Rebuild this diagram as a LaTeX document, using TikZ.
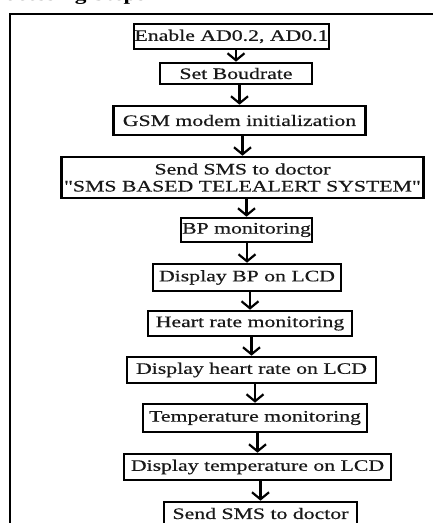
\documentclass[tikz,border=0pt]{standalone}
\usepackage{fontspec}
\newfontfamily\boxfont{Liberation Serif}[FakeStretch=1.36,FakeBold=0.5]
\newfontfamily\headfont{Liberation Serif}[FakeStretch=1.3]
\usetikzlibrary{arrows.meta}
\begin{document}
\begin{tikzpicture}[x=1pt,y=-1pt,
  box/.style={draw, line width=2.6pt, inner sep=0pt, align=center,
    font=\boxfont\fontsize{16}{17}\selectfont, text=black!90},
  flow/.style={line width=2.4pt, -{Straight Barb[length=7pt,width=17pt,line width=2.2pt]}},
  frameline/.style={line width=1.6pt},
  head/.style={inner sep=0pt, font=\headfont\fontsize{18}{20}\selectfont\bfseries}]
\useasboundingbox (0,0) rectangle (433,523);
\fill[white] (0,0) rectangle (433,523);
% heading (cut at top, as in the source)
\node[head, anchor=base east] (title) at (146,0.5) {Processing Steps};
% frame
\coordinate (fr) at (440,14);
\coordinate (fc) at (10,14);
\coordinate (fb) at (10,530);
\draw[frameline] (fr) -- (fc) -- (fb);
% boxes
\node[box, minimum width=195pt, minimum height=25pt] (b1) at (231.5,36.5) {Enable AD0.2, AD0.1};
\node[box, minimum width=152pt, minimum height=21pt] (b2) at (236,73.5) {Set Boudrate};
\node[box, minimum width=252pt, minimum height=29pt] (b3) at (239.5,120.5) {GSM modem initialization};
\node[box, minimum width=362pt, minimum height=41pt] (b4) at (242.5,177.5) {Send SMS to doctor\\"SMS BASED TELEALERT SYSTEM"};
\node[box, minimum width=131pt, minimum height=24pt] (b5) at (246.5,230) {BP monitoring};
\node[box, minimum width=188pt, minimum height=27pt] (b6) at (247,277.5) {Display BP on LCD};
\node[box, minimum width=204pt, minimum height=25pt] (b7) at (250,323.5) {Heart rate monitoring};
\node[box, minimum width=249pt, minimum height=26pt] (b8) at (251.5,370) {Display heart rate on LCD};
\node[box, minimum width=224pt, minimum height=28pt] (b9) at (255,418) {Temperature monitoring};
\node[box, minimum width=267pt, minimum height=26pt] (b10) at (257.5,467) {Display temperature on LCD};
\node[box, minimum width=193pt, minimum height=23pt] (b11) at (260.5,513.5) {Send SMS to doctor};
% arrows
\foreach \a/\b in {b1/b2,b2/b3,b3/b4,b4/b5,b5/b6,b6/b7,b7/b8,b8/b9,b9/b10,b10/b11}
  \draw[flow] (\b.north |- \a.south) -- (\b.north);
\end{tikzpicture}
\end{document}
